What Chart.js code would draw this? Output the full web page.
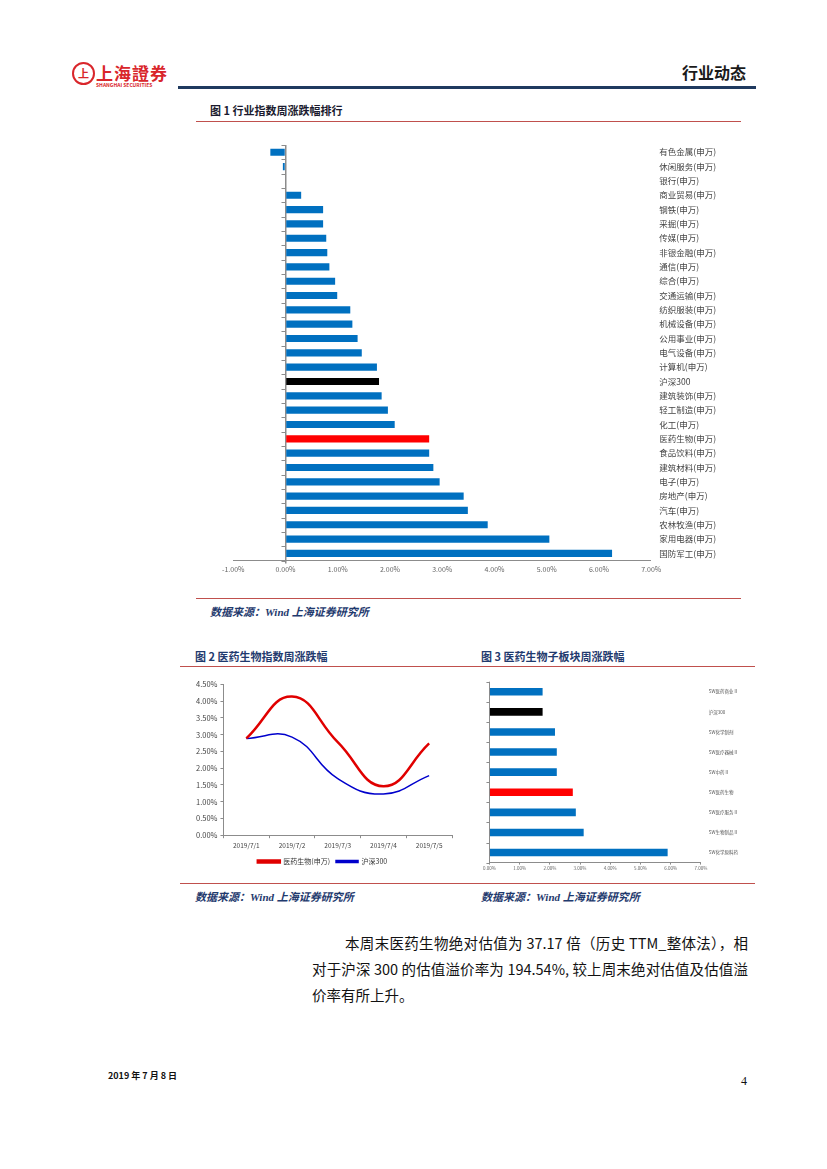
<!DOCTYPE html>
<html>
<head>
<meta charset="utf-8">
<script src="https://cdn.jsdelivr.net/npm/chart.js@4"></script>
<style>
  body { margin: 0; background: #fff; font-family: "Noto Sans CJK SC", sans-serif; }
  #page { position: relative; width: 827px; height: 1169px; overflow: hidden; }
  .abs { position: absolute; }
  .title { font-weight: bold; font-size: 11px; color: #1F3A6E; white-space: nowrap; }
  .src { font-weight: bold; font-style: italic; font-size: 11px; color: #1F3A6E; white-space: nowrap; font-family: "Liberation Serif", "Noto Sans CJK SC", serif; }
  .redline { height: 1px; background: #C0504D; }
  .box { position: absolute; }
  .para { position: absolute; font-size: 14.5px; line-height: 26px; color: #111; white-space: nowrap; }
  .just { text-align: justify; text-align-last: justify; white-space: normal; }
</style>
</head>
<body>
<div id="page">
  <!-- header -->
  <div class="abs" style="left:72px;top:62px;width:19px;height:19px;border:2px solid #D9262B;border-radius:50%;color:#D9262B;font-size:11px;font-weight:bold;text-align:center;line-height:19px;">上</div>
  <div class="abs" style="left:96px;top:60px;color:#D9262B;font-size:17px;font-weight:bold;letter-spacing:1px;font-family:'Noto Sans CJK TC';">上海證券</div>
  <div class="abs" style="left:96px;top:81px;color:#D9262B;font-size:5px;font-weight:bold;">SHANGHAI SECURITIES</div>
  <div class="abs" style="left:682px;top:60px;font-size:16px;font-weight:bold;color:#1a1a1a;">行业动态</div>
  <div class="abs" style="left:178px;top:86px;width:578px;height:3px;background:#1F3A5F;"></div>

  <div class="abs title" style="left:210px;top:102px;color:#1a1a2e;">图 1 行业指数周涨跌幅排行</div>
  <div class="abs redline" style="left:196px;top:121px;width:545px;"></div>
  <div class="box" style="left:220px;top:140px;width:496px;height:436px;"><canvas id="c1"></canvas></div>
  <div class="abs redline" style="left:196px;top:598px;width:545px;"></div>
  <div class="abs src" style="left:210px;top:603px;">数据来源：Wind 上海证券研究所</div>

  <div class="abs title" style="left:195px;top:648px;">图 2 医药生物指数周涨跌幅</div>
  <div class="abs title" style="left:481px;top:648px;">图 3 医药生物子板块周涨跌幅</div>
  <div class="abs redline" style="left:180px;top:666px;width:575px;"></div>
  <div class="box" style="left:193px;top:677px;width:265px;height:198px;"><canvas id="c2"></canvas></div>
  <div class="box" style="left:482px;top:679px;width:256px;height:193px;"><canvas id="c3"></canvas></div>
  <div class="abs redline" style="left:180px;top:883px;width:575px;"></div>
  <div class="abs src" style="left:195px;top:888px;">数据来源：Wind 上海证券研究所</div>
  <div class="abs src" style="left:481px;top:888px;">数据来源：Wind 上海证券研究所</div>

  <div class="para just" style="left:345px;top:930px;width:403px;">本周末医药生物绝对估值为 37.17 倍（历史 TTM_整体法），相</div>
  <div class="para just" style="left:312px;top:956px;width:436px;">对于沪深 300 的估值溢价率为 194.54%, 较上周末绝对估值及估值溢</div>
  <div class="para" style="left:312px;top:982px;">价率有所上升。</div>

  <div class="abs" style="left:108px;top:1069px;font-size:9px;font-weight:bold;color:#111;">2019 年 7 月 8 日</div>
  <div class="abs" style="left:741px;top:1074px;font-size:12px;color:#111;font-family:'Liberation Serif';">4</div>
</div>

<script>
// 图1 行业指数周涨跌幅 (%)
const industryLabels = ['有色金属(申万)', '休闲服务(申万)', '银行(申万)', '商业贸易(申万)', '钢铁(申万)', '采掘(申万)',
  '传媒(申万)', '非银金融(申万)', '通信(申万)', '综合(申万)', '交通运输(申万)', '纺织服装(申万)', '机械设备(申万)',
  '公用事业(申万)', '电气设备(申万)', '计算机(申万)', '沪深300', '建筑装饰(申万)', '轻工制造(申万)', '化工(申万)',
  '医药生物(申万)', '食品饮料(申万)', '建筑材料(申万)', '电子(申万)', '房地产(申万)', '汽车(申万)', '农林牧渔(申万)',
  '家用电器(申万)', '国防军工(申万)'];
const industryValues = [-0.29, -0.05, 0.00, 0.30, 0.72, 0.72, 0.78, 0.80, 0.84, 0.95, 0.99, 1.24, 1.28,
  1.38, 1.46, 1.75, 1.79, 1.84, 1.96, 2.09, 2.75, 2.75, 2.83, 2.95, 3.41, 3.49, 3.87, 5.05, 6.25];

// 图2 医药生物指数周涨跌幅 (%)
const dates = ['2019/7/1', '2019/7/2', '2019/7/3', '2019/7/4', '2019/7/5'];
const pharmaWeek = [2.89, 4.14, 2.78, 1.46, 2.74];
const hs300Week = [2.89, 2.93, 1.69, 1.23, 1.78];

// 图3 医药生物子板块周涨跌幅 (%)
const subLabels = ['SW医药商业Ⅱ', '沪深300', 'SW化学制剂', 'SW医疗器械Ⅱ', 'SW中药Ⅱ', 'SW医药生物', 'SW医疗服务Ⅱ', 'SW生物制品Ⅱ', 'SW化学原料药'];
const subValues = [1.76, 1.76, 2.17, 2.23, 2.23, 2.76, 2.86, 3.12, 5.90];

const BLUE = '#0070C0', AXIS = '#8c8c8c';
const FONT = '"Noto Sans CJK SC", sans-serif';

function barColor(label) {
  if (label.indexOf('沪深300') >= 0) return '#000000';
  if (label.indexOf('医药生物') >= 0) return '#FF0000';
  return BLUE;
}
const pct = v => Number(v).toFixed(2) + '%';

// small tick marks on the zero line between categories
const catTicks = {
  id: 'catTicks',
  afterDraw(chart, args, opts) {
    const xs = chart.scales.x, ys = chart.scales.y, ctx = chart.ctx;
    const x0 = xs.getPixelForValue(0);
    const n = ys.ticks.length;
    const step = n > 1 ? ys.getPixelForValue(1) - ys.getPixelForValue(0) : 0;
    ctx.save();
    ctx.strokeStyle = AXIS;
    ctx.lineWidth = 1;
    ctx.beginPath();
    for (let i = 0; i <= n; i++) {
      const y = Math.round(ys.getPixelForValue(0) + step * (i - 0.5)) + 0.5;
      ctx.moveTo(x0 - (opts.len || 3), y);
      ctx.lineTo(x0, y);
    }
    ctx.stroke();
    ctx.restore();
  }
};

Chart.defaults.font.family = FONT;
Chart.defaults.animation = false;

new Chart(document.getElementById('c1'), {
  type: 'bar',
  data: {
    labels: industryLabels,
    datasets: [{
      data: industryValues,
      backgroundColor: industryLabels.map(barColor),
      categoryPercentage: 1,
      barPercentage: 0.5
    }]
  },
  plugins: [catTicks],
  options: {
    indexAxis: 'y',
    maintainAspectRatio: false,
    responsive: true,
    layout: { padding: 0 },
    plugins: { legend: { display: false }, tooltip: { enabled: false }, catTicks: { len: 4 } },
    scales: {
      x: {
        min: -1, max: 7,
        ticks: { stepSize: 1, callback: pct, color: '#666', font: { size: 7 }, padding: 2, maxRotation: 0 },
        grid: {
          color: c => (c.tick && c.tick.value === 0 ? AXIS : 'rgba(0,0,0,0)'),
          lineWidth: c => (c.tick && c.tick.value === 0 ? 1.5 : 0),
          tickColor: AXIS, tickLength: 3
        },
        border: { display: true, color: AXIS }
      },
      y: {
        position: 'right',
        ticks: { color: '#444', font: { size: 8.5 }, padding: 0, autoSkip: false },
        grid: { display: false },
        border: { display: false }
      }
    }
  }
});

new Chart(document.getElementById('c2'), {
  type: 'line',
  data: {
    labels: dates,
    datasets: [
      { label: '医药生物(申万)', data: pharmaWeek, borderColor: '#E00000', backgroundColor: '#E00000', borderWidth: 2.5, pointRadius: 0, tension: 0.45 },
      { label: '沪深300', data: hs300Week, borderColor: '#0000CC', backgroundColor: '#0000CC', borderWidth: 1.5, pointRadius: 0, tension: 0.45 }
    ]
  },
  options: {
    maintainAspectRatio: false,
    responsive: true,
    layout: { padding: { left: 0, top: 0, right: 6, bottom: 0 } },
    plugins: {
      tooltip: { enabled: false },
      legend: {
        position: 'bottom',
        labels: { boxWidth: 22, boxHeight: 2, font: { size: 7 }, color: '#333', padding: 6 }
      }
    },
    scales: {
      x: {
        offset: true,
        ticks: { color: '#444', font: { size: 6.5 }, maxRotation: 0, padding: 3 },
        grid: { offset: true, drawOnChartArea: false, color: AXIS, tickLength: 3 },
        border: { color: AXIS }
      },
      y: {
        min: 0, max: 4.5,
        ticks: { stepSize: 0.5, callback: pct, color: '#444', font: { size: 7.5 }, padding: 3 },
        grid: { drawOnChartArea: false, color: AXIS, tickLength: 3 },
        border: { color: AXIS }
      }
    }
  }
});

new Chart(document.getElementById('c3'), {
  type: 'bar',
  data: {
    labels: subLabels,
    datasets: [{
      data: subValues,
      backgroundColor: subLabels.map(barColor),
      categoryPercentage: 1,
      barPercentage: 0.38
    }]
  },
  plugins: [catTicks],
  options: {
    indexAxis: 'y',
    maintainAspectRatio: false,
    responsive: true,
    layout: { padding: 0 },
    plugins: { legend: { display: false }, tooltip: { enabled: false }, catTicks: { len: 3 } },
    scales: {
      x: {
        min: 0, max: 7,
        ticks: { stepSize: 1, callback: pct, color: '#666', font: { size: 4.5 }, padding: 1, maxRotation: 0 },
        grid: {
          color: c => (c.tick && c.tick.value === 0 ? AXIS : 'rgba(0,0,0,0)'),
          tickColor: AXIS, tickLength: 2
        },
        border: { display: true, color: AXIS }
      },
      y: {
        position: 'right',
        ticks: { color: '#555', font: { size: 4.5 }, padding: 0, autoSkip: false },
        grid: { display: false },
        border: { display: false }
      }
    }
  }
});
</script>
</body>
</html>
